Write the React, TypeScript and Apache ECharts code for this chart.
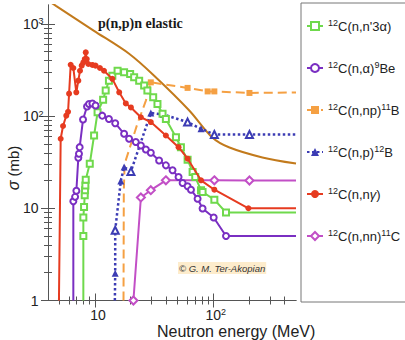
import { useEffect, useRef } from 'react';
import * as echarts from 'echarts';

// Axis ranges and ticks (MeV, mb)
const xRange = [4, 500];
const yRange = [1, 1600];
const xMajor = [10, 100];
const xMinor = [5, 6, 7, 8, 9, 20, 30, 40, 50, 60, 70, 80, 90, 200, 300, 400];
const yMajor = [1, 10, 100, 1000];
const yMinor = [2, 3, 4, 5, 6, 7, 8, 9, 20, 30, 40, 50, 60, 70, 80, 90, 200, 300, 400, 500, 600, 700, 800, 900];

// p(n,p)n elastic
const elasticE = [4, 4.67, 9.8, 19.4, 31.6, 62.6, 98, 137, 260, 500];
const elasticS = [1790, 1566, 840, 474, 274, 115, 58.6, 45.6, 35.6, 30.5];

// 12C(n,n'3α)
const n3aE = [7.96, 7.96, 7.96, 8.07, 8.18, 8.23, 8.28, 8.34, 9.02, 9.81, 10.5, 11.7, 12.3, 13.1, 14.0, 15.5, 17.6, 19.8, 21.4, 23.6, 26.0, 27.7, 31.0, 33.7, 37.2, 39.7, 48.3, 53.2, 60.6, 66.8, 70.3, 78.7, 81.1, 102, 128, 500];
const n3aS = [1, 5.02, 7.93, 10.3, 13.8, 15.7, 17.7, 20.4, 30.4, 61.5, 110, 150, 189, 242, 274, 310, 298, 286, 263, 242, 214, 189, 160, 135, 106, 93, 59, 46, 33.6, 24.7, 21.8, 15.7, 15, 12.4, 9, 9];
const n3aBare = [0, 35];

// 12C(n,α)9Be
const naE = [6.55, 6.55, 6.78, 6.95, 7.22, 7.31, 7.41, 7.91, 8.55, 8.89, 9.49, 10.1, 11.5, 13.1, 14.8, 17.6, 19.4, 22.1, 24.4, 26.9, 29.6, 34.8, 39.7, 45.2, 50.8, 55, 60.6, 64.7, 73.6, 81.1, 100.7, 128, 500];
const naS = [1, 11.9, 13.3, 15.5, 35.3, 39, 46, 91.7, 127, 135, 137, 130, 101, 93, 83.6, 64.2, 56.7, 52.4, 48, 43.4, 40, 33, 29.2, 25.8, 21.8, 18.8, 17.3, 15.9, 12.7, 9.93, 7.93, 5, 5];
const naBare = [0, 32];

// 12C(n,np)11B
const npE = [17.4, 17.5, 17.8, 22.8, 26.9, 29.6, 60.6, 89.5, 102, 202, 500];
const npS = [1, 15.7, 30.4, 82.4, 147, 232, 202, 185, 185, 178, 180];
const npBare = [0, 1, 2, 3, 4, 10];

// 12C(n,p)12B
const pE = [14.7, 14.8, 14.8, 16.5, 17.6, 20.1, 29.6, 37.7, 60.6, 78.7, 102, 202, 500];
const pS = [1, 1.97, 5.78, 19.7, 28, 25.1, 108, 104, 86, 72.7, 63, 63, 63];
const pBare = [0, 12];
const pOpen = [2, 5, 8, 10, 11];

// 12C(n,nγ)
const ngE = [4.95, 5.12, 5.36, 5.71, 5.91, 6.03, 6.22, 6.55, 6.94, 7.22, 7.46, 7.71, 7.96, 8.18, 8.34, 8.51, 8.77, 9.49, 10.1, 11.0, 11.9, 14.0, 16.0, 18.2, 20.1, 24.4, 29.6, 39.7, 50.8, 60.6, 78.7, 102, 198, 500];
const ngS = [1, 56.7, 78, 101, 111, 175, 360, 332, 181, 242, 310, 352, 382, 415, 490, 415, 367, 358, 352, 332, 310, 253, 181, 137, 124, 97, 86, 61.5, 46, 34.5, 20.1, 15.9, 10, 10];
const ngBare = [0, 33];

// 12C(n,nn)11C
const nnE = [21.1, 24.4, 29.6, 39.7, 102, 202, 500];
const nnS = [1, 13.1, 15.7, 20.1, 20.1, 20, 20];
const nnBare = [6];

const names = ["12C(n,n'3α)", '12C(n,α)9Be', '12C(n,np)11B', '12C(n,p)12B', '12C(n,nγ)', '12C(n,nn)11C'];
const legendRich: Record<string, string> = {
  "12C(n,n'3α)": "{s|12}{m|C(n,n'3α)}",
  '12C(n,α)9Be': '{s|12}{m|C(n,α)}{s|9}{m|Be}',
  '12C(n,np)11B': '{s|12}{m|C(n,np)}{s|11}{m|B}',
  '12C(n,p)12B': '{s|12}{m|C(n,p)}{s|12}{m|B}',
  '12C(n,nγ)': '{s|12}{m|C(n,n}{g|γ}{m|)}',
  '12C(n,nn)11C': '{s|12}{m|C(n,nn)}{s|11}{m|C}',
};

// log10 coordinates; x measured from the left edge of the range so the axis starts at 0
const X0 = Math.log10(xRange[0]);
const LX = (v: number) => Math.log10(v) - X0;
const LY = (v: number) => Math.log10(v);
const build = (E: number[], S: number[], bare: number[] = [], open: number[] = [], openSym = '') =>
  E.map((e, i) => {
    const item: any = { value: [LX(e), LY(S[i])] };
    if (bare.includes(i)) item.symbol = 'none';
    else if (open.includes(i)) item.symbol = openSym;
    return item;
  });

const FONT = '"Liberation Sans", Arial, sans-serif';
const AX = '#555';

export default function App() {
  const ref = useRef<HTMLDivElement>(null);
  useEffect(() => {
    document.body.style.margin = '0';
    const chart = echarts.init(ref.current!, null, { renderer: 'svg' });
    const xBase = { type: 'value', min: 0, max: LX(xRange[1]), splitLine: { show: false } };
    const yBase = { type: 'value', min: 0, max: LY(yRange[1]), splitLine: { show: false } };
    const labRich = {
      s: { fontSize: 9, verticalAlign: 'top', fontFamily: FONT, color: '#222' },
      sp: { width: 5 },
      sp2: { width: 6 },
      p: { fontSize: 14, fontFamily: FONT, color: '#222', padding: [0, 0, 0, 7.8] },
    };
    const line = (color: string, type: any = 'solid', width = 2) => ({ color, type, width });
    const option: any = {
      animation: false,
      grid: { left: 48, right: 109, top: 5, bottom: 39.5, containLabel: false, outerBoundsMode: 'none' },
      xAxis: [
        {
          ...xBase, position: 'bottom',
          axisLine: { show: true, lineStyle: { color: AX } },
          axisTick: { show: true, inside: true, length: 7, customValues: xMajor.map(LX), lineStyle: { color: AX } },
          axisLabel: {
            customValues: xMajor.map(LX), margin: 7, fontSize: 14, fontFamily: FONT, color: '#222',
            formatter: (v: number) => { const p = Math.round(v + X0); return p === 1 ? '{sp2|}10' : '{sp|}10{s|' + p + '}'; },
            rich: labRich,
          },
        },
        { ...xBase, position: 'bottom', axisLine: { show: false }, axisTick: { show: true, inside: true, length: 4, customValues: xMinor.map(LX), lineStyle: { color: AX } }, axisLabel: { show: false } },
        { ...xBase, position: 'top', axisLine: { show: true, lineStyle: { color: AX } }, axisTick: { show: true, inside: true, length: 7, customValues: xMajor.map(LX), lineStyle: { color: AX } }, axisLabel: { show: false } },
        { ...xBase, position: 'top', axisLine: { show: false }, axisTick: { show: true, inside: true, length: 4, customValues: xMinor.map(LX), lineStyle: { color: AX } }, axisLabel: { show: false } },
      ],
      yAxis: [
        {
          ...yBase, position: 'left',
          axisLine: { show: true, lineStyle: { color: AX } },
          axisTick: { show: true, inside: true, length: 7, customValues: yMajor.map(LY), lineStyle: { color: AX } },
          axisLabel: {
            customValues: yMajor.map(LY), margin: 25, align: 'left', fontSize: 14, fontFamily: FONT, color: '#222',
            formatter: (v: number) => { const p = Math.round(v); return p === 0 ? '{p|1}' : p === 1 ? '10' : '10{s|' + p + '}'; },
            rich: labRich,
          },
        },
        { ...yBase, position: 'left', axisLine: { show: false }, axisTick: { show: true, inside: true, length: 4, customValues: yMinor.map(LY), lineStyle: { color: AX } }, axisLabel: { show: false } },
        { ...yBase, position: 'right', axisLine: { show: true, lineStyle: { color: AX } }, axisTick: { show: true, inside: true, length: 7, customValues: yMajor.map(LY), lineStyle: { color: AX } }, axisLabel: { show: false } },
        { ...yBase, position: 'right', axisLine: { show: false }, axisTick: { show: true, inside: true, length: 4, customValues: yMinor.map(LY), lineStyle: { color: AX } }, axisLabel: { show: false } },
      ],
      legend: {
        orient: 'vertical', left: 301, top: 13, itemWidth: 16, itemHeight: 10, itemGap: 26,
        data: names,
        formatter: (n: string) => legendRich[n] || n,
        textStyle: {
          fontFamily: FONT, fontSize: 13, color: '#222', lineHeight: 16,
          rich: {
            m: { fontSize: 13, fontFamily: FONT, color: '#222', lineHeight: 16 },
            g: { fontSize: 13, fontFamily: FONT, color: '#222', lineHeight: 16, fontStyle: 'italic' },
            s: { fontSize: 9, fontFamily: FONT, color: '#222', verticalAlign: 'top' },
          },
        },
      },
      series: [
        { type: 'line', name: 'p(n,p)n elastic', data: build(elasticE, elasticS), smooth: 0.3, showSymbol: false, symbol: 'none', lineStyle: line('#c27a1c'), itemStyle: { color: '#c27a1c' }, z: 1 },
        { type: 'line', name: names[0], data: build(n3aE, n3aS, n3aBare), symbol: 'emptyRect', symbolSize: 6, lineStyle: line('#6fd94c'), itemStyle: { color: '#6fd94c', borderWidth: 1 }, z: 3 },
        { type: 'line', name: names[1], data: build(naE, naS, naBare), symbol: 'emptyCircle', symbolSize: 6, lineStyle: line('#7a2fc2'), itemStyle: { color: '#7a2fc2', borderWidth: 1 }, z: 3 },
        { type: 'line', name: names[2], data: build(npE, npS, npBare), symbol: 'rect', symbolSize: 6, lineStyle: line('#f5a043', [9, 5]), itemStyle: { color: '#f5a043' }, z: 2 },
        { type: 'line', name: names[3], data: build(pE, pS, pBare, pOpen, 'emptyTriangle'), symbol: 'triangle', symbolSize: 7, lineStyle: line('#3c3cb4', [2.5, 2.5], 2.5), itemStyle: { color: '#3c3cb4', borderWidth: 1.2 }, z: 2 },
        { type: 'line', name: names[4], data: build(ngE, ngS, ngBare), symbol: 'circle', symbolSize: 6, lineStyle: line('#e63b20'), itemStyle: { color: '#e63b20' }, z: 4 },
        { type: 'line', name: names[5], data: build(nnE, nnS, nnBare), symbol: 'emptyDiamond', symbolSize: 8, lineStyle: line('#c24fc6'), itemStyle: { color: '#c24fc6', borderWidth: 1.5 }, z: 2 },
      ],
      graphic: [
        { type: 'rect', shape: { x: 301, y: 3, width: 110, height: 299 }, style: { fill: 'none', stroke: '#777', lineWidth: 1 }, silent: true },
        { type: 'text', x: 98, y: 23, style: { text: 'p(n,p)n elastic', fontFamily: '"Liberation Serif", "DejaVu Serif", serif', fontWeight: 'bold', fontSize: 14, fill: '#1a1a1a', verticalAlign: 'middle' } },
        { type: 'text', x: 157, y: 331, style: { text: 'Neutron energy (MeV)', fontFamily: FONT, fontSize: 16, fill: '#222', verticalAlign: 'middle' } },
        {
          type: 'text', x: 13, y: 168, rotation: Math.PI / 2,
          style: {
            text: '{i|σ} (mb)', fontFamily: FONT, fontSize: 15, fill: '#222', align: 'center', verticalAlign: 'middle',
            rich: { i: { fontSize: 16, fontStyle: 'italic', fontFamily: FONT, fill: '#222' } },
          },
        },
        { type: 'text', x: 178, y: 268, style: { text: '© G. M. Ter-Akopian', fontFamily: FONT, fontStyle: 'italic', fontSize: 9.5, fill: '#333', verticalAlign: 'middle', backgroundColor: '#fdeccc', padding: [1, 1] } },
      ],
    };
    chart.setOption(option);
    return () => chart.dispose();
  }, []);
  return <div ref={ref} style={{ position: 'fixed', left: 0, top: 0, width: 405, height: 340, background: '#fff' }} />;
}
